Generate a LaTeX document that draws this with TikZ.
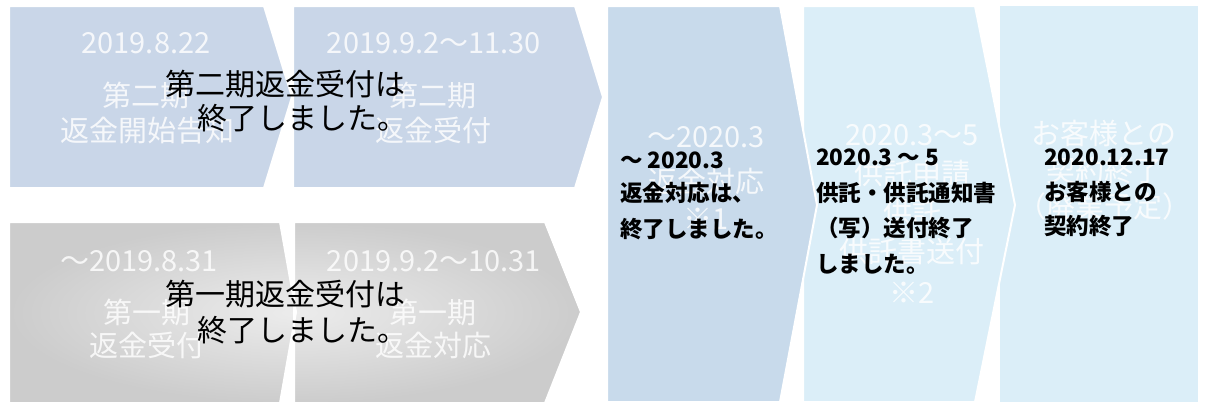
\documentclass[tikz,border=0pt]{standalone}
\usepackage{fontspec}
\newfontfamily\jp{Noto Sans CJK JP}
\definecolor{topblue}{RGB}{201,214,232}
\definecolor{midblue}{RGB}{200,218,235}
\definecolor{paleblue}{RGB}{219,238,248}
\definecolor{grayin}{RGB}{236,236,236}
\definecolor{grayout}{RGB}{204,204,204}
\begin{document}
\begin{tikzpicture}[x=1pt,y=-1pt]
\tikzset{
  sepline/.style={draw=white, line width=2pt, line join=miter},
  wtxt/.style={text=white, text opacity=0.82, font=\jp\fontsize{29}{34}\selectfont, inner sep=0pt, text height=0.88em, text depth=0.12em},
  btxt/.style={text=black, font=\jp\fontsize{30}{36}\selectfont, inner sep=0pt, anchor=west, text height=0.88em, text depth=0.12em},
  ctxt/.style={text=black, font=\jp\bfseries\fontsize{22.5}{30}\selectfont, inner sep=0pt, anchor=west, text height=0.88em, text depth=0.12em}
}
\useasboundingbox (0,0) rectangle (1205,408);
\fill[white] (0,0) rectangle (1205,408);
% right columns (drawn right to left so tips lie on top)
\fill[paleblue] (1000,6) -- (1198,6) -- (1198,402) -- (1000,402) -- cycle;
\path[fill=paleblue, sepline] (803,6) -- (975,6) -- (1015,205) -- (975,402) -- (803,402) -- cycle;
\path[fill=midblue, sepline] (607,6) -- (780,6) -- (817,205) -- (780,402) -- (607,402) -- cycle;
% top row
\path[fill=topblue, sepline] (293,6) -- (575,6) -- (603,97) -- (575,188) -- (293,188) -- cycle;
\path[fill=topblue, sepline] (9,6) -- (264,6) -- (292,97) -- (264,188) -- (9,188) -- cycle;
% bottom row, one shading across both
\shade[inner color=grayin, outer color=grayout]
  (294,222) -- (545,222) -- (581,312) -- (545,403) -- (294,403) -- cycle
  (9,222) -- (280,222) -- (296,312) -- (280,403) -- (9,403) -- cycle;
\draw[sepline] (294,222) -- (545,222) -- (581,312) -- (545,403) -- (294,403) -- cycle;
\draw[sepline] (9,222) -- (280,222) -- (296,312) -- (280,403) -- (9,403) -- cycle;

% faded white labels
\node[wtxt] (a1date) at (146,50) {2019.8.22};
\node[wtxt] (a1l1) at (146,103) {第二期};
\node[wtxt] (a1l2) at (147,138) {返金開始告知};
\node[wtxt] (a2date) at (434,50) {2019.9.2～11.30};
\node[wtxt] (a2l1) at (433,103) {第二期};
\node[wtxt] (a2l2) at (433,138) {返金受付};
\node[wtxt] (b1date) at (139,268) {～2019.8.31};
\node[wtxt] (b1l1) at (147,320) {第一期};
\node[wtxt] (b1l2) at (147,353) {返金受付};
\node[wtxt] (b2date) at (434,268) {2019.9.2～10.31};
\node[wtxt] (b2l1) at (433,320) {第一期};
\node[wtxt] (b2l2) at (433,353) {返金対応};
\node[wtxt] (c3l1) at (706,144) {～2020.3};
\node[wtxt] (c3l2) at (706,189) {返金対応};
\node[wtxt] (c3l3) at (706,226) {※1};
\node[wtxt] (c4l1) at (912,142) {2020.3～5};
\node[wtxt] (c4l2) at (912,181) {供託申請};
\node[wtxt] (c4l3) at (912,220) {供託};
\node[wtxt] (c4l4) at (912,259) {供託書送付};
\node[wtxt] (c4l5) at (912,300) {※2};
\node[wtxt] (c5l1) at (1104,141) {お客様との};
\node[wtxt] (c5l2) at (1104,178) {契約終了};
\node[wtxt] (c5l3) at (1104,214) {（廃業予定）};

% black overlays
\node[btxt] (top1) at (165,92) {第二期返金受付は};
\node[btxt] (top2) at (197,126) {終了しました。};
\node[btxt] (bot1) at (165,302) {第一期返金受付は};
\node[btxt] (bot2) at (197,338) {終了しました。};

\node[ctxt] (k3a) at (620,165) {～ 2020.3};
\node[ctxt] (k3b) at (620,198) {返金対応は、};
\node[ctxt] (k3c) at (620,234) {終了しました。};
\node[ctxt] (k4a) at (816,162) {2020.3 ～ 5};
\node[ctxt] (k4b) at (816,198) {供託・供託通知書};
\node[ctxt] (k4c) at (816,233) {（写）送付終了};
\node[ctxt] (k4d) at (816,269) {しました。};
\node[ctxt] (k5a) at (1044,162) {2020.12.17};
\node[ctxt] (k5b) at (1044,197) {お客様との};
\node[ctxt] (k5c) at (1044,231) {契約終了};
\end{tikzpicture}
\end{document}
